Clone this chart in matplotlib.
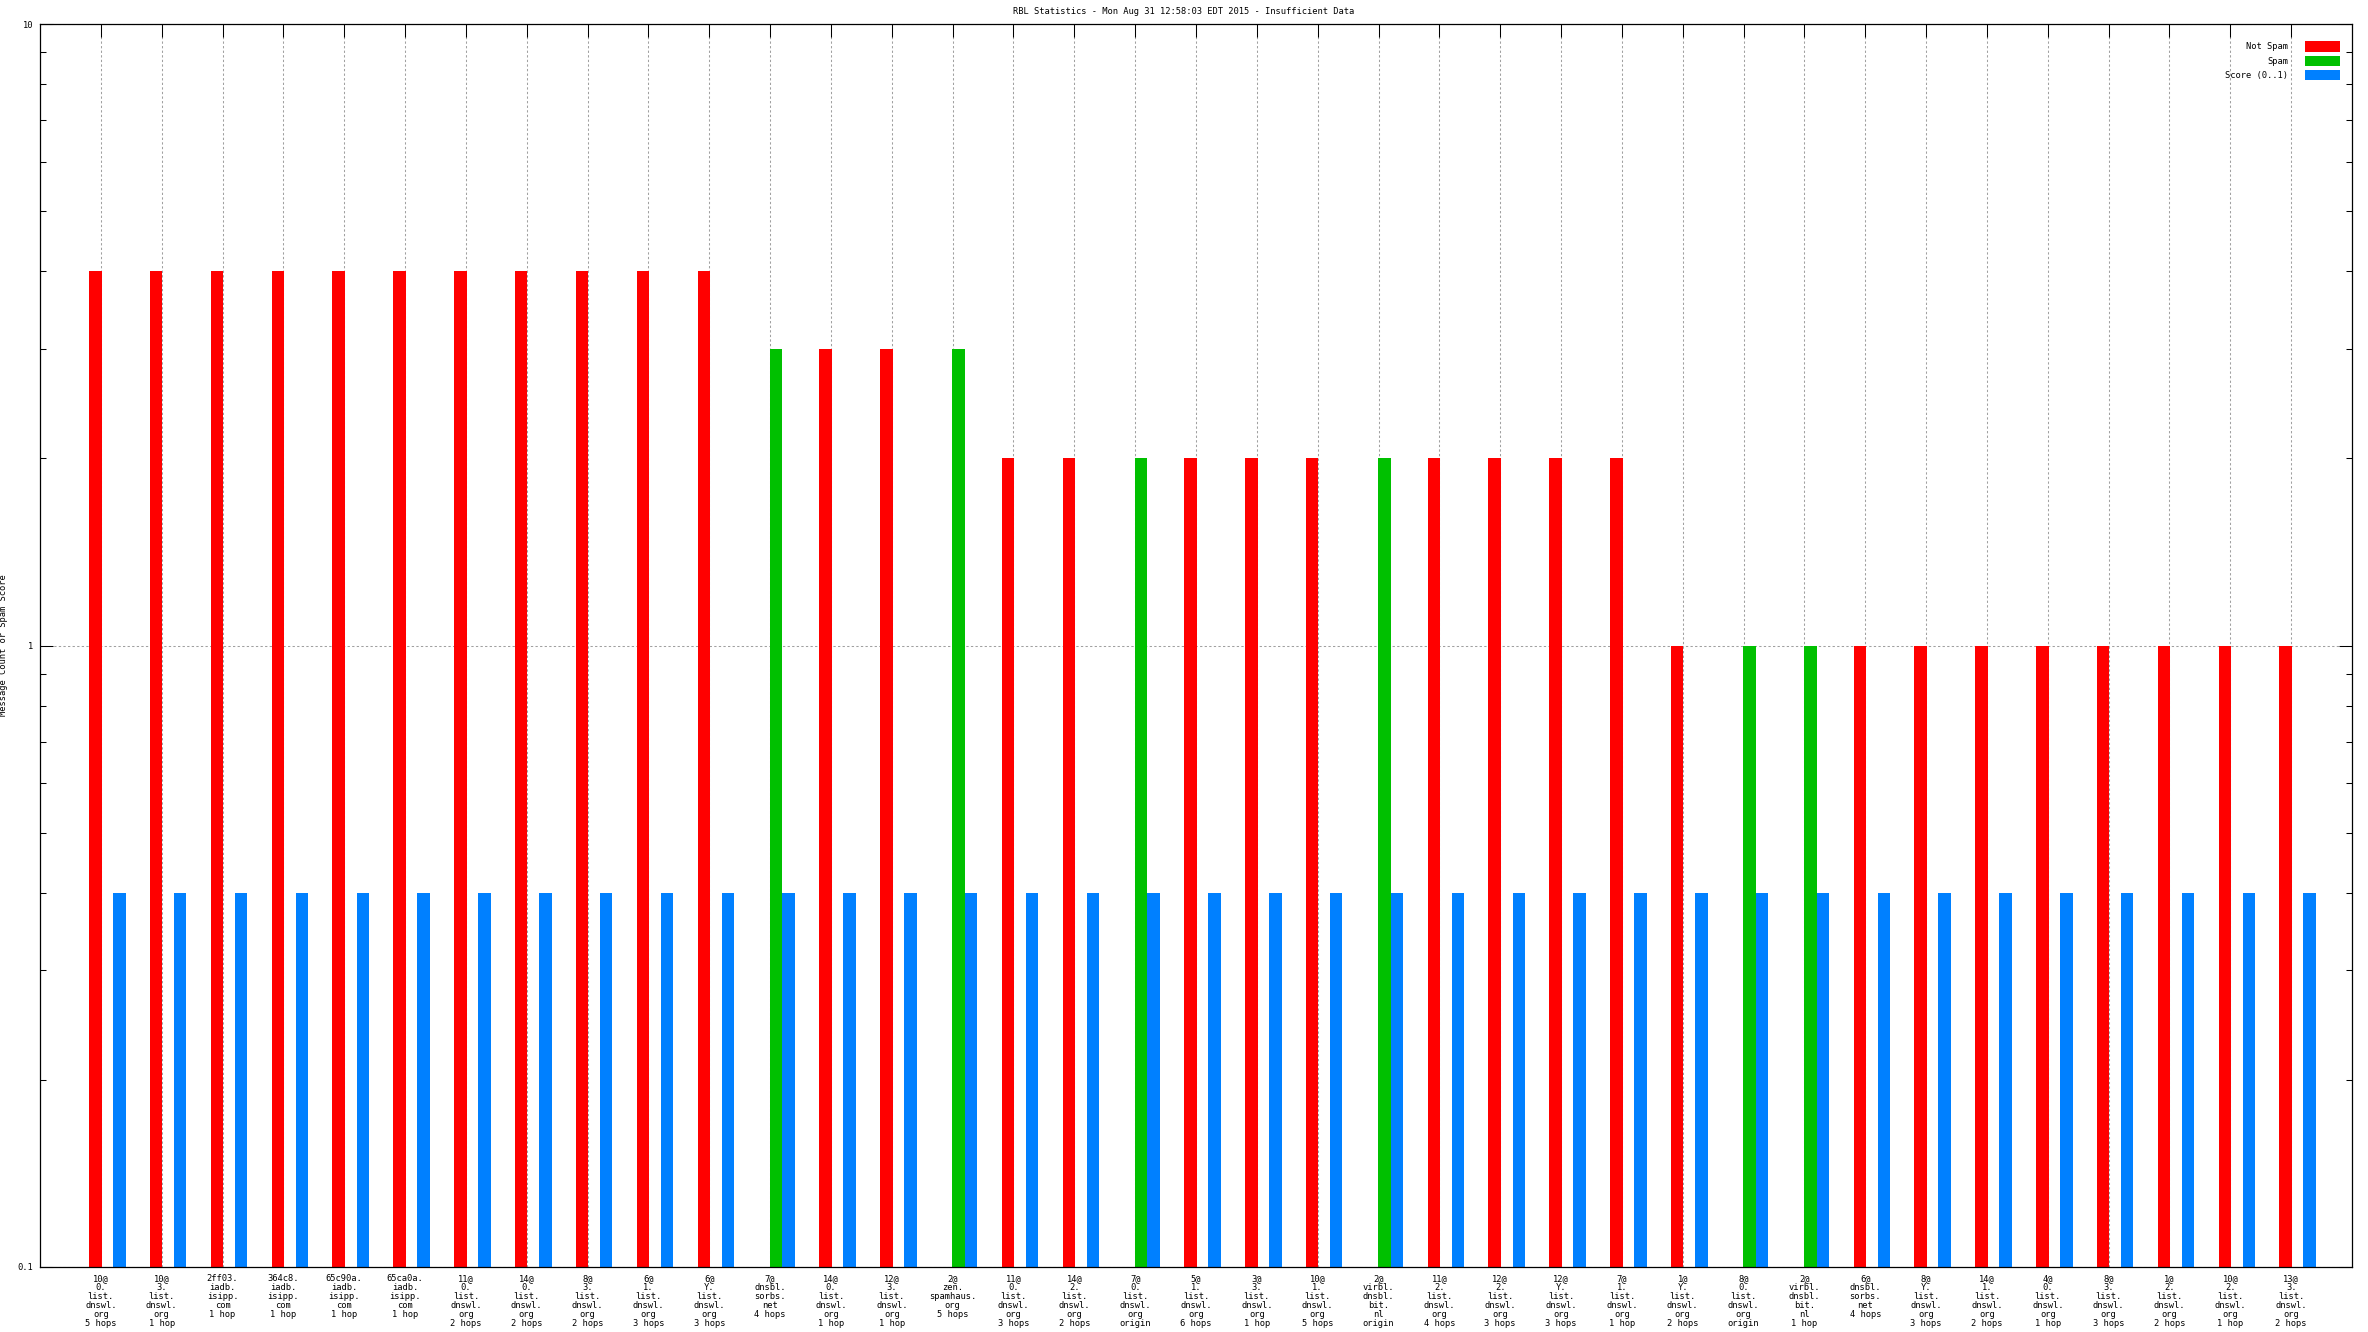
import numpy as np
import matplotlib
matplotlib.use('Agg')
import matplotlib.pyplot as plt
from matplotlib.ticker import LogLocator, FixedLocator, NullFormatter

####### chart data ############

TITLE = 'RBL Statistics - Mon Aug 31 12:58:03 EDT 2015 - Insufficient Data'

rbls = [
    '10@\n0.\nlist.\ndnswl.\norg\n5 hops', '10@\n3.\nlist.\ndnswl.\norg\n1 hop',
    '2ff03.\niadb.\nisipp.\ncom\n1 hop', '364c8.\niadb.\nisipp.\ncom\n1 hop',
    '65c90a.\niadb.\nisipp.\ncom\n1 hop', '65ca0a.\niadb.\nisipp.\ncom\n1 hop',
    '11@\n0.\nlist.\ndnswl.\norg\n2 hops', '14@\n0.\nlist.\ndnswl.\norg\n2 hops',
    '8@\n3.\nlist.\ndnswl.\norg\n2 hops', '6@\n1.\nlist.\ndnswl.\norg\n3 hops',
    '6@\nY.\nlist.\ndnswl.\norg\n3 hops', '7@\ndnsbl.\nsorbs.\nnet\n4 hops',
    '14@\n0.\nlist.\ndnswl.\norg\n1 hop', '12@\n3.\nlist.\ndnswl.\norg\n1 hop',
    '2@\nzen.\nspamhaus.\norg\n5 hops', '11@\n0.\nlist.\ndnswl.\norg\n3 hops',
    '14@\n2.\nlist.\ndnswl.\norg\n2 hops', '7@\n0.\nlist.\ndnswl.\norg\norigin',
    '5@\n1.\nlist.\ndnswl.\norg\n6 hops', '3@\n3.\nlist.\ndnswl.\norg\n1 hop',
    '10@\n1.\nlist.\ndnswl.\norg\n5 hops', '2@\nvirbl.\ndnsbl.\nbit.\nnl\norigin',
    '11@\n2.\nlist.\ndnswl.\norg\n4 hops', '12@\n2.\nlist.\ndnswl.\norg\n3 hops',
    '12@\nY.\nlist.\ndnswl.\norg\n3 hops', '7@\n1.\nlist.\ndnswl.\norg\n1 hop',
    '1@\nY.\nlist.\ndnswl.\norg\n2 hops', '8@\n0.\nlist.\ndnswl.\norg\norigin',
    '2@\nvirbl.\ndnsbl.\nbit.\nnl\n1 hop', '6@\ndnsbl.\nsorbs.\nnet\n4 hops',
    '8@\nY.\nlist.\ndnswl.\norg\n3 hops', '14@\n1.\nlist.\ndnswl.\norg\n2 hops',
    '4@\n0.\nlist.\ndnswl.\norg\n1 hop', '8@\n3.\nlist.\ndnswl.\norg\n3 hops',
    '1@\n2.\nlist.\ndnswl.\norg\n2 hops', '10@\n2.\nlist.\ndnswl.\norg\n1 hop',
    '13@\n3.\nlist.\ndnswl.\norg\n2 hops',
]

not_spam = [4, 4, 4, 4, 4, 4, 4, 4, 4, 4, 4, 0, 3, 3, 0, 2, 2, 0, 2, 2, 2, 0, 2, 2, 2, 2,
            1, 0, 0, 1, 1, 1, 1, 1, 1, 1, 1]
spam     = [0, 0, 0, 0, 0, 0, 0, 0, 0, 0, 0, 3, 0, 0, 3, 0, 0, 2, 0, 0, 0, 2, 0, 0, 0, 0,
            0, 1, 1, 0, 0, 0, 0, 0, 0, 0, 0]
score    = [0.4] * 37

YMIN, YMAX = 0.1, 10

####### styling ############

RED, GREEN, BLUE = '#ff0000', '#00c000', '#0080ff'
FONT = 'DejaVu Sans Mono'
FS = 6.3
W, H = 2368, 1332

plt.rcParams['font.family'] = FONT
plt.rcParams['font.size'] = FS

fig = plt.figure(figsize=(W / 100, H / 100), dpi=100)
ax = fig.add_axes([40 / W, (H - 1267) / H, 2312 / W, 1243 / H])

x = np.arange(1, len(rbls) + 1)
bw = 0.205

def draw(vals, offset, color, label):
    v = np.array(vals, dtype=float)
    m = v > 0
    ax.bar(x[m] + offset, v[m] - YMIN, bottom=YMIN, width=bw, color=color,
           linewidth=0, zorder=2)
    # legend proxy
    ax.bar([0], [0], color=color, label=label)

draw(not_spam, -0.09, RED, 'Not Spam')
draw(spam, 0.10, GREEN, 'Spam')
draw(score, 0.305, BLUE, 'Score (0..1)')

ax.set_yscale('log')
ax.set_ylim(YMIN, YMAX)
ax.set_xlim(0, len(rbls) + 1)

ax.yaxis.set_major_locator(FixedLocator([0.1, 1, 10]))
ax.set_yticklabels(['0.1', '1', '10'])
ax.yaxis.set_minor_locator(LogLocator(base=10, subs=np.arange(2, 10)))
ax.yaxis.set_minor_formatter(NullFormatter())

ax.set_xticks(x)
ax.set_xticklabels(rbls, linespacing=1.0, va='top')

ax.tick_params(axis='both', which='major', direction='in', length=9.4, width=0.75,
               top=True, right=True, labelsize=FS, pad=5)
ax.tick_params(axis='x', which='major', bottom=False)
ax.tick_params(axis='y', which='minor', direction='in', length=4.3, width=0.75,
               right=True)
ax.tick_params(axis='x', which='minor', bottom=False, top=False)

for s in ax.spines.values():
    s.set_linewidth(0.9)

ax.grid(True, which='major', color='#a0a0a0', linestyle=(0, (2.2, 2.2)), linewidth=0.75,
        zorder=0)
ax.set_axisbelow(True)

ax.set_ylabel('Message Count or Spam Score', fontsize=FS)
ax.yaxis.set_label_coords(-32 / 2312, 0.5)
fig.text(0.5, 1 - 12 / H, TITLE, ha='center', va='center', fontsize=FS)

leg = ax.legend(loc='upper right', frameon=False, markerfirst=False, fontsize=FS,
                handlelength=3.9, handleheight=1.4, handletextpad=2.0,
                labelspacing=0.45, borderaxespad=0.0,
                bbox_to_anchor=(2303 / 2312, 1 - 14 / 1243))
for t in leg.get_texts():
    t.set_ha('right')

fig.savefig('out.png', dpi=100)
